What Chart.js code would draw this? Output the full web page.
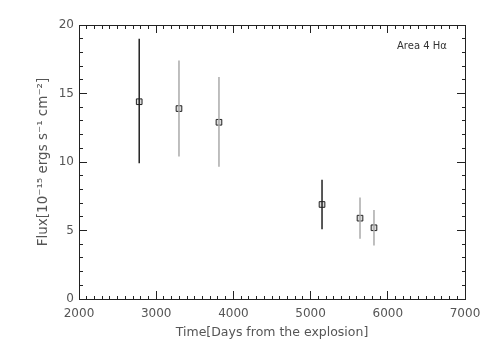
<!DOCTYPE html>
<html>
<head>
<meta charset="utf-8">
<script src="https://cdn.jsdelivr.net/npm/chart.js@4/dist/chart.umd.min.js"></script>
<style>
  body { margin: 0; background: #fff; }
  #wrap { position: relative; width: 491px; height: 351px; }
  #areaLabel {
    position: absolute; left: 397px; top: 40px;
    font: 10px "DejaVu Sans", sans-serif; color: #333;
  }
</style>
</head>
<body>
<div id="wrap">
  <canvas id="fluxChart" width="491" height="351"></canvas>
  <div id="areaLabel">Area 4 Hα</div>
</div>
<script>
// days since explosion, flux (1e-15 erg/s/cm2) and error bar ends
const times = [2780, 3295, 3813, 5148, 5640, 5821];
const flux = [14.4, 13.9, 12.9, 6.9, 5.9, 5.2];
const fluxLow = [9.9, 10.4, 9.65, 5.1, 4.4, 3.9];
const fluxHigh = [19.0, 17.4, 16.2, 8.7, 7.4, 6.5];
const darkBar = [true, false, false, true, false, false];
const xRange = [2000, 7000];
const yRange = [0, 20];

const axisColor = '#222';
const textColor = '#555';
const fontFamily = "'DejaVu Sans', sans-serif";

// error bars as line segments separated by gaps
const barPoints = [];
times.forEach((t, i) => {
  barPoints.push({ x: t, y: fluxLow[i] });
  barPoints.push({ x: t, y: fluxHigh[i] });
  barPoints.push({ x: t, y: null });
});
const markerPoints = times.map((t, i) => ({ x: t, y: flux[i] }));

// minor ticks are made short with a dash pattern (starting side differs per axis)
function tickDash(major, fromAxis) {
  return ctx => {
    const v = ctx.tick ? ctx.tick.value : 0;
    if (v % major === 0) return [];
    return fromAxis ? [4, 20] : [0, 4, 4, 20];
  };
}

function xAxis(position, showLabels, size) {
  return {
    type: 'linear',
    position: position,
    min: xRange[0],
    max: xRange[1],
    ticks: {
      display: showLabels,
      stepSize: 100,
      maxTicksLimit: 100,
      autoSkip: false,
      maxRotation: 0,
      padding: 16,
      color: textColor,
      font: { family: fontFamily, size: 12 },
      callback: v => (v % 1000 === 0 ? v : '')
    },
    grid: {
      drawOnChartArea: false,
      drawTicks: true,
      tickLength: -8,
      tickColor: axisColor,
      tickWidth: 1,
      tickBorderDash: tickDash(1000, position === 'bottom')
    },
    border: { display: true, color: axisColor, width: 1 },
    title: {
      display: showLabels,
      text: 'Time[Days from the explosion]',
      color: textColor,
      font: { family: fontFamily, size: 12.5 },
      padding: { top: 0, bottom: 11 }
    },
    afterFit: s => {
      s.height = size;
      s.paddingLeft = 0;
      s.paddingRight = 0;
    }
  };
}

function yAxis(position, showLabels, size) {
  return {
    type: 'linear',
    position: position,
    min: yRange[0],
    max: yRange[1],
    ticks: {
      display: showLabels,
      stepSize: 1,
      maxTicksLimit: 100,
      autoSkip: false,
      padding: 13,
      color: textColor,
      font: { family: fontFamily, size: 12 },
      callback: v => (v % 5 === 0 ? v : '')
    },
    grid: {
      drawOnChartArea: false,
      drawTicks: true,
      tickLength: -8,
      tickColor: axisColor,
      tickWidth: 1,
      tickBorderDash: tickDash(5, position === 'right')
    },
    border: { display: true, color: axisColor, width: 1 },
    title: {
      display: showLabels,
      text: 'Flux[10⁻¹⁵ ergs s⁻¹ cm⁻²]',
      color: textColor,
      font: { family: fontFamily, size: 13.5 },
      padding: { top: 35, bottom: 0 }
    },
    afterFit: s => {
      s.width = size;
      s.paddingTop = 0;
      s.paddingBottom = 0;
    }
  };
}

new Chart(document.getElementById('fluxChart'), {
  type: 'scatter',
  data: {
    datasets: [
      {
        label: 'error',
        type: 'line',
        data: barPoints,
        showLine: true,
        spanGaps: false,
        pointRadius: 0,
        borderWidth: 1.5,
        borderColor: '#aaa',
        segment: {
          borderColor: ctx => (darkBar[Math.floor(ctx.p0DataIndex / 3)] ? '#222' : '#aaa')
        }
      },
      {
        label: 'flux',
        data: markerPoints,
        pointStyle: 'rect',
        pointRadius: 4,
        backgroundColor: '#ddd',
        borderColor: '#222',
        borderWidth: 1
      },
      {
        label: 'flux cross',
        data: markerPoints,
        pointStyle: 'crossRot',
        pointRadius: 3,
        borderColor: '#333',
        borderWidth: 1
      }
    ]
  },
  options: {
    responsive: false,
    animation: false,
    layout: { padding: 0 },
    plugins: {
      legend: { display: false },
      tooltip: { enabled: false }
    },
    scales: {
      x: xAxis('bottom', true, 52),
      x2: xAxis('top', false, 25),
      y: yAxis('left', true, 79),
      y2: yAxis('right', false, 26)
    }
  }
});
</script>
</body>
</html>
